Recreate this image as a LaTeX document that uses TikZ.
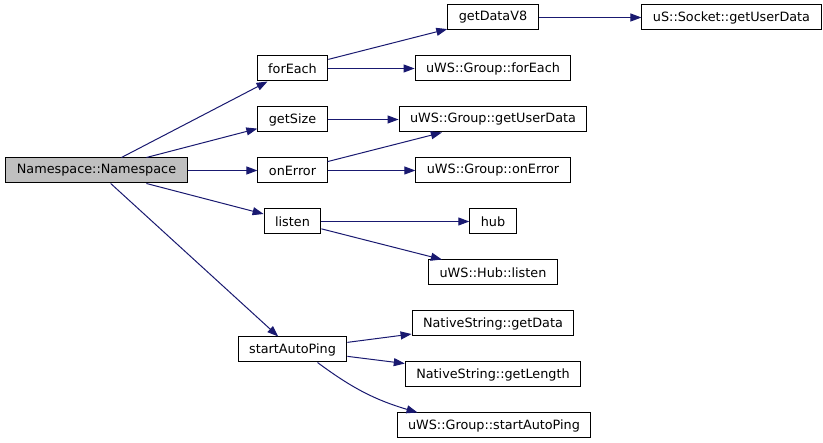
\documentclass[tikz,border=0pt]{standalone}
\usepackage{fontspec}
\setmainfont{DejaVu Sans}
\usepackage{tikz}
\usetikzlibrary{arrows.meta}
\definecolor{edgeblue}{HTML}{191970}
\definecolor{rootgray}{HTML}{BFBFBF}
\tikzset{
fnode/.style = {draw=black, fill=white, rectangle, line width=1pt, minimum height=25pt, inner xsep=11pt, inner ysep=0pt, font=\fontsize{12.8}{14}\selectfont},
rootnode/.style = {fnode, fill=rootgray},
call/.style = {->, draw=edgeblue, line width=1pt}
}

\begin{document}
\begin{tikzpicture}[x=1pt, y=-1pt, >={Triangle[length=11pt,width=8pt]}]
  \useasboundingbox (0,0) rectangle (823,443);
  % caller
  \node [rootnode] (ns) at (96.5,170.5) {Namespace::Namespace};
  % first level
  \node [fnode] (forEach) at (292.5,68.5) {forEach};
  \node [fnode] (getSize) at (292.5,119.5) {getSize};
  \node [fnode] (onError) at (292.5,170.5) {onError};
  \node [fnode] (listen) at (292.5,221.5) {listen};
  \node [fnode] (autoPing) at (292.5,349.5) {startAutoPing};
  % second level
  \node [fnode] (getDataV8) at (493,17.5) {getDataV8};
  \node [fnode] (sockUserData) at (731.5,17.5) {uS::Socket::getUserData};
  \node [fnode] (grpForEach) at (493,68.5) {uWS::Group::forEach};
  \node [fnode] (grpUserData) at (493,119.5) {uWS::Group::getUserData};
  \node [fnode] (grpOnError) at (493,170.5) {uWS::Group::onError};
  \node [fnode] (hub) at (493,221.5) {hub};
  \node [fnode] (hubListen) at (493,272.5) {uWS::Hub::listen};
  \node [fnode] (strData) at (493,323.5) {NativeString::getData};
  \node [fnode] (strLength) at (493,374.5) {NativeString::getLength};
  \node [fnode] (grpAutoPing) at (494,425.5) {uWS::Group::startAutoPing};

  \draw [call] (ns) -- (forEach);
  \draw [call] (ns) -- (getSize);
  \draw [call] (ns) -- (onError);
  \draw [call] (ns) -- (listen);
  \draw [call] (ns) -- (autoPing);
  \draw [call] (forEach) -- (getDataV8);
  \draw [call] (getDataV8) -- (sockUserData);
  \draw [call] (forEach) -- (grpForEach);
  \draw [call] (getSize) -- (grpUserData);
  \draw [call] (onError) -- (grpUserData);
  \draw [call] (onError) -- (grpOnError);
  \draw [call] (listen) -- (hub);
  \draw [call] (listen) -- (hubListen);
  \draw [call] (autoPing) -- (strData);
  \draw [call] (autoPing) -- (strLength);
  \draw [call] ([xshift=25pt]autoPing.south) to[bend right=10] (grpAutoPing);
\end{tikzpicture}
\end{document}
